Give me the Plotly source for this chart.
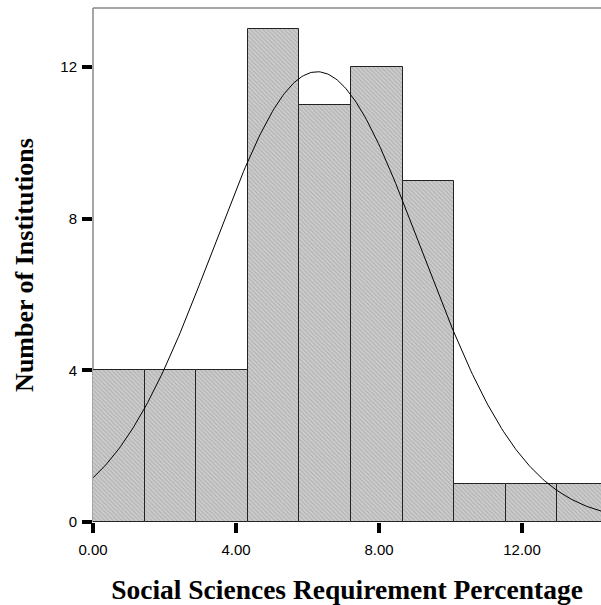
import numpy as np
import plotly.graph_objects as go

# Histogram data
bin_start = 0.0
bin_width = 1.443
counts = [4, 4, 4, 13, 11, 12, 9, 1, 1, 1]

# Fitted normal curve parameters
fit_mean = 6.27
fit_sd = 2.91
n_total = sum(counts)

x_ticks = [0, 4, 8, 12]
y_ticks = [0, 4, 8, 12]

centers = [bin_start + (i + 0.5) * bin_width for i in range(len(counts))]

xs = np.linspace(0, 14.3, 300)
ys = n_total * bin_width / (fit_sd * np.sqrt(2 * np.pi)) * np.exp(-0.5 * ((xs - fit_mean) / fit_sd) ** 2)

fig = go.Figure()
fig.add_trace(go.Bar(
    x=centers, y=counts, width=[bin_width] * len(counts),
    marker=dict(
        color="#c8c8c8",
        line=dict(color="#222222", width=1),
        pattern=dict(shape="\\", fgcolor="#8a8a8a", bgcolor="#cccccc", size=3, solidity=0.3),
    ),
    showlegend=False, hoverinfo="skip",
))
fig.add_trace(go.Scatter(
    x=xs, y=ys, mode="lines", line=dict(color="black", width=1),
    showlegend=False, hoverinfo="skip",
))

fig.update_layout(
    width=601, height=605,
    margin=dict(l=93, r=0, t=8, b=83),
    plot_bgcolor="white", paper_bgcolor="white",
    bargap=0,
    font=dict(family="Liberation Sans, Arial", size=15, color="black"),
    xaxis=dict(
        range=[0, 14.21], tickvals=x_ticks, tickformat=".2f",
        ticks="outside", ticklen=10, tickwidth=4, tickcolor="black",
        showgrid=False, zeroline=False, showline=False,
        ticklabelstandoff=4,
        title=dict(text="<b>Social Sciences Requirement Percentage</b>",
                   font=dict(family="Liberation Serif, Times New Roman", size=27.5, color="black"),
                   standoff=26),
    ),
    yaxis=dict(
        range=[0, 13.55], tickvals=y_ticks,
        ticks="outside", ticklen=10, tickwidth=4, tickcolor="black",
        showgrid=False, zeroline=False, showline=False,
        ticklabelstandoff=2,
        title=dict(text="<b>Number of Institutions</b>",
                   font=dict(family="Liberation Serif, Times New Roman", size=26, color="black"),
                   standoff=19),
    ),
    shapes=[
        dict(type="line", xref="paper", yref="paper", x0=0, x1=0, y0=0, y1=1,
             line=dict(color="#888888", width=1.5), layer="below"),
        dict(type="line", xref="paper", yref="paper", x0=0, x1=1, y0=1, y1=1,
             line=dict(color="#888888", width=1.5), layer="below"),
    ],
)

fig.write_html("out.html", config={"displayModeBar": False},
               post_script="document.body.style.margin='0';document.body.style.overflow='hidden';")
